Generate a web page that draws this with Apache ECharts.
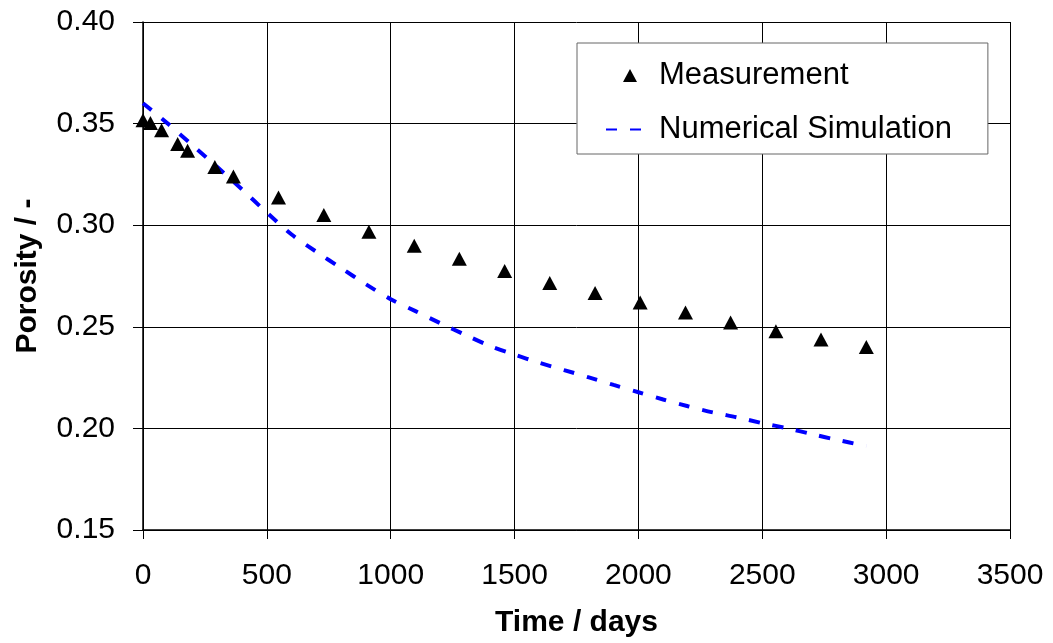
<!DOCTYPE html>
<html>
<head>
<meta charset="utf-8">
<title>Porosity</title>
<script src="https://cdn.jsdelivr.net/npm/echarts@6/dist/echarts.min.js"></script>
<style>
  html, body { margin: 0; padding: 0; background: #fff; }
  #main { width: 1053px; height: 643px; }
</style>
</head>
<body>
<div id="main"></div>
<script>
// measured porosity
var measDays = [0, 30, 75, 140, 180, 290, 365, 547, 730, 912, 1095, 1277, 1460, 1642, 1825, 2007, 2190, 2372, 2555, 2737, 2920];
var measPorosity = [0.3517, 0.3503, 0.3467, 0.3399, 0.3366, 0.3286, 0.3240, 0.3136, 0.3050, 0.2968, 0.2899,
  0.2835, 0.2775, 0.2716, 0.2666, 0.2619, 0.2570, 0.2521, 0.2478, 0.2438, 0.2401];

// simulation curve
var simDays = [0, 100, 200, 300, 400, 500, 600, 700, 800, 900, 1000, 1100, 1200, 1300, 1400, 1500,
  1600, 1700, 1800, 1900, 2000, 2100, 2200, 2300, 2400, 2500, 2600, 2700, 2800, 2920];
var simPorosity = [0.3600, 0.3500, 0.3393, 0.3286, 0.3176, 0.3062, 0.2954, 0.2869, 0.2789, 0.2709, 0.2636,
  0.2577, 0.2518, 0.2461, 0.2406, 0.2363, 0.2323, 0.2287, 0.2251, 0.2214, 0.2178, 0.2142, 0.2109,
  0.2079, 0.2054, 0.2026, 0.2001, 0.1972, 0.1944, 0.1913];

var seriesNames = ['Measurement', 'Numerical Simulation'];

function pairs(xs, ys) {
  return xs.map(function (x, i) { return [x, ys[i]]; });
}

var font = 'Liberation Sans, Arial, sans-serif';
// small triangle inside a 35x15 box so the legend does not stretch it
var legendTriangle = 'path://M0,0 M35,15 M17,14 L24,1 L31,14 Z';
var chart = echarts.init(document.getElementById('main'));

chart.setOption({
  animation: false,
  backgroundColor: '#fff',
  textStyle: { fontFamily: font },
  grid: { left: 143, right: 43, top: 22, bottom: 112 },
  legend: {
    orient: 'vertical',
    left: 577,
    top: 43,
    padding: [17, 36, 9, 28],
    itemGap: 23,
    itemWidth: 35,
    itemHeight: 15,
    borderColor: '#666',
    borderWidth: 1,
    backgroundColor: '#fff',
    textStyle: { fontSize: 31, color: '#000', fontFamily: font, padding: [0, 0, 0, 13] },
    data: [
      { name: seriesNames[0], icon: legendTriangle, itemStyle: { color: '#000', opacity: 1 } },
      { name: seriesNames[1], itemStyle: { opacity: 0 } }
    ]
  },
  xAxis: {
    type: 'value',
    min: 0, max: 3500, interval: 500,
    name: 'Time / days',
    nameLocation: 'middle',
    nameGap: 78,
    nameTextStyle: { fontSize: 30, fontWeight: 'bold', color: '#000', fontFamily: font },
    axisLine: { lineStyle: { color: '#000', width: 1.5 } },
    axisTick: { show: true, inside: false, length: 9, lineStyle: { color: '#000' } },
    axisLabel: { fontSize: 30, color: '#000', margin: 31, formatter: function (v) { return String(v); } },
    splitLine: { show: true, lineStyle: { color: '#000', width: 1 } }
  },
  yAxis: {
    type: 'value',
    min: 0.15, max: 0.40, interval: 0.05,
    name: 'Porosity / -',
    nameLocation: 'middle',
    nameGap: 100,
    nameTextStyle: { fontSize: 30, fontWeight: 'bold', color: '#000', fontFamily: font },
    axisLine: { show: true, lineStyle: { color: '#000', width: 1.5 } },
    axisTick: { show: true, inside: false, length: 10, lineStyle: { color: '#000' } },
    axisLabel: { fontSize: 30, color: '#000', margin: 28, formatter: function (v) { return v.toFixed(2); } },
    splitLine: { show: true, lineStyle: { color: '#000', width: 1 } }
  },
  series: [
    {
      name: seriesNames[1],
      type: 'line',
      data: pairs(simDays, simPorosity),
      showSymbol: false,
      symbol: 'none',
      smooth: 0.3,
      lineStyle: { color: '#0000ff', width: 4, type: [11, 13] },
      itemStyle: { color: '#0000ff' },
      z: 2
    },
    {
      name: seriesNames[0],
      type: 'scatter',
      data: pairs(measDays, measPorosity),
      symbol: 'triangle',
      symbolSize: [15, 14],
      itemStyle: { color: '#000', opacity: 1 },
      z: 3
    }
  ]
});
</script>
</body>
</html>
